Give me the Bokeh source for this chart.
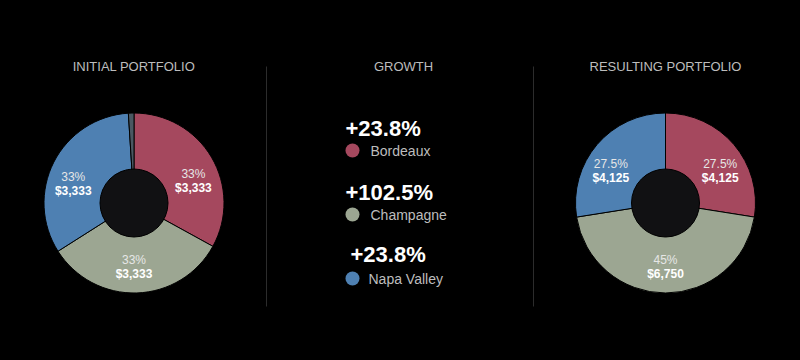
import math
from bokeh.plotting import figure
from bokeh.models import Range1d, ColumnDataSource
from bokeh.core.properties import value
from bokeh.embed import file_html
from bokeh.resources import INLINE

# ---- data ----
categories = ["Bordeaux", "Champagne", "Napa Valley"]
colors = ["#A5485E", "#9CA692", "#4E80B2"]
other_color = "#4A5862"

initial_pct = [33, 33, 33]
initial_other_pct = 1
initial_values = [3333, 3333, 3333]

result_pct = [27.5, 45, 27.5]
result_values = [4125, 6750, 4125]

growth_pct = [23.8, 102.5, 23.8]

titles = ["INITIAL PORTFOLIO", "GROWTH", "RESULTING PORTFOLIO"]

W, H = 784, 344
FONT = "Liberation Sans"


def Y(img_y):
    return H - img_y


def X(img_x):
    return img_x


p = figure(width=W, height=H, output_backend="svg", toolbar_location=None,
           x_range=Range1d(0, W), y_range=Range1d(0, H), min_border=0,
           background_fill_color="#000000", border_fill_color="#000000",
           outline_line_color=None)
p.axis.visible = False
p.grid.visible = False


def fmt_pct(v):
    return ("%g" % v) + "%"


def sgn(v, tol=0.2):
    return 0 if abs(v) < tol else (1 if v > 0 else -1)


def donut(cx, cy, pcts, vals, extra=None):
    all_pct = list(pcts) + ([extra] if extra else [])
    all_col = list(colors) + ([other_color] if extra else [])
    total = sum(all_pct)
    starts, ends = [], []
    cum = 0.0
    for v in all_pct:
        starts.append(math.pi / 2 - cum / total * 2 * math.pi)
        cum += v
        ends.append(math.pi / 2 - cum / total * 2 * math.pi)
    src = ColumnDataSource(dict(x=[cx] * len(all_pct), y=[cy] * len(all_pct),
                                s=starts, e=ends, c=all_col))
    p.wedge(x="x", y="y", radius=90, start_angle="s", end_angle="e",
            direction="clock", fill_color="c", line_color="#000000",
            line_width=1, source=src)
    p.scatter([cx], [cy], size=68, fill_color="#111113",
              line_color="#000000", line_width=1)
    lx, ly, pt, dt = [], [], [], []
    for i in range(len(pcts)):
        mid = (starts[i] + ends[i]) / 2
        c = sgn(math.cos(mid))
        if c == 0:
            a = -math.pi / 2 if math.sin(mid) < 0 else math.pi / 2
        else:
            a = mid - math.radians(10) * c * sgn(math.sin(mid))
        r = 63.5
        lx.append(cx + r * math.cos(a))
        ly.append(cy + r * math.sin(a))
        pt.append(fmt_pct(pcts[i]))
        dt.append("${:,}".format(vals[i]))
    p.text(lx, [y + 7 for y in ly], text=pt, text_align="center",
           text_baseline="middle", text_color="#E6E6E6",
           text_font=value(FONT), text_font_size="12px")
    p.text(lx, [y - 7 for y in ly], text=dt, text_align="center",
           text_baseline="middle", text_color="#FFFFFF",
           text_font=value(FONT), text_font_size="12px",
           text_font_style="bold")


donut(X(133.5), Y(202.5), initial_pct, initial_values, extra=initial_other_pct)
donut(X(665), Y(202.5), result_pct, result_values)

# titles
p.text([X(133.5), X(403), X(665)], [Y(66)] * 3, text=titles,
       text_align="center", text_baseline="middle", text_color="#BDBDBD",
       text_font=value(FONT), text_font_size="13px")

# dividers
p.segment(x0=[X(266), X(533)], y0=[Y(66)] * 2, x1=[X(266), X(533)],
          y1=[Y(306)] * 2, line_color="#2C2C2C", line_width=1)

# growth section
row_y = [128, 192, 254]
dot_y = [150, 214, 278]
val_x = [345, 345, 350]
name_x = [370, 370, 368]
p.text([X(v) for v in val_x], [Y(v) for v in row_y],
       text=["+" + fmt_pct(g) for g in growth_pct], text_align="left",
       text_baseline="middle", text_color="#FFFFFF", text_font=value(FONT),
       text_font_size="22px", text_font_style="bold")
p.scatter([X(352)] * 3, [Y(v) for v in dot_y], size=14, fill_color=colors,
          line_color=None)
p.text([X(v) for v in name_x], [Y(v) for v in dot_y], text=categories,
       text_align="left", text_baseline="middle", text_color="#BDBDBD",
       text_font=value(FONT), text_font_size="14px")

html = file_html(p, INLINE)
html = html.replace("<body>", '<body style="background-color:#000000;">')
open("out.html", "w").write(html)
